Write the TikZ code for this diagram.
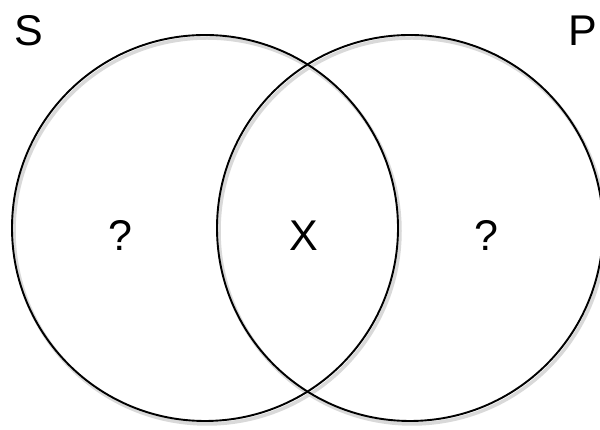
\documentclass[tikz,border=0pt]{standalone}
\usepackage{fontspec}
\setmainfont{Liberation Sans}
\usetikzlibrary{positioning}

\begin{document}
\begin{tikzpicture}[
        x=1pt, y=1pt,
        set/.style={draw, circle, line width=1.9pt, minimum size=386pt, inner sep=0pt},
        shade/.style={draw=black!15, circle, line width=3.5pt, minimum size=386pt, inner sep=0pt},
        lbl/.style={font=\fontsize{43}{45}\selectfont, anchor=base, inner sep=0pt}
    ]
        \useasboundingbox (0,0) rectangle (600,430);
        \clip (0,0) rectangle (600,430);
        %=================== faint shadow under the rings ===================
        \node[shade] (Ssh) at (207,199) {};
        \node[shade] (Psh) at (412,199) {};
        %=================== the two sets ===================
        \node[set] (S) at (205,202) {};
        \node[set] (P) at (410,202) {};
        % set names
        \node[lbl] (Slab) at (29,384) {S};
        \node[lbl] (Plab) at (583,384) {P};
        %=================== regions ===================
        \node[lbl] (left) at (120,179) {?};
        \node[lbl] (mid) at (304,179) {X};
        \node[lbl] (right) at (486,179) {?};
    \end{tikzpicture}
\end{document}
